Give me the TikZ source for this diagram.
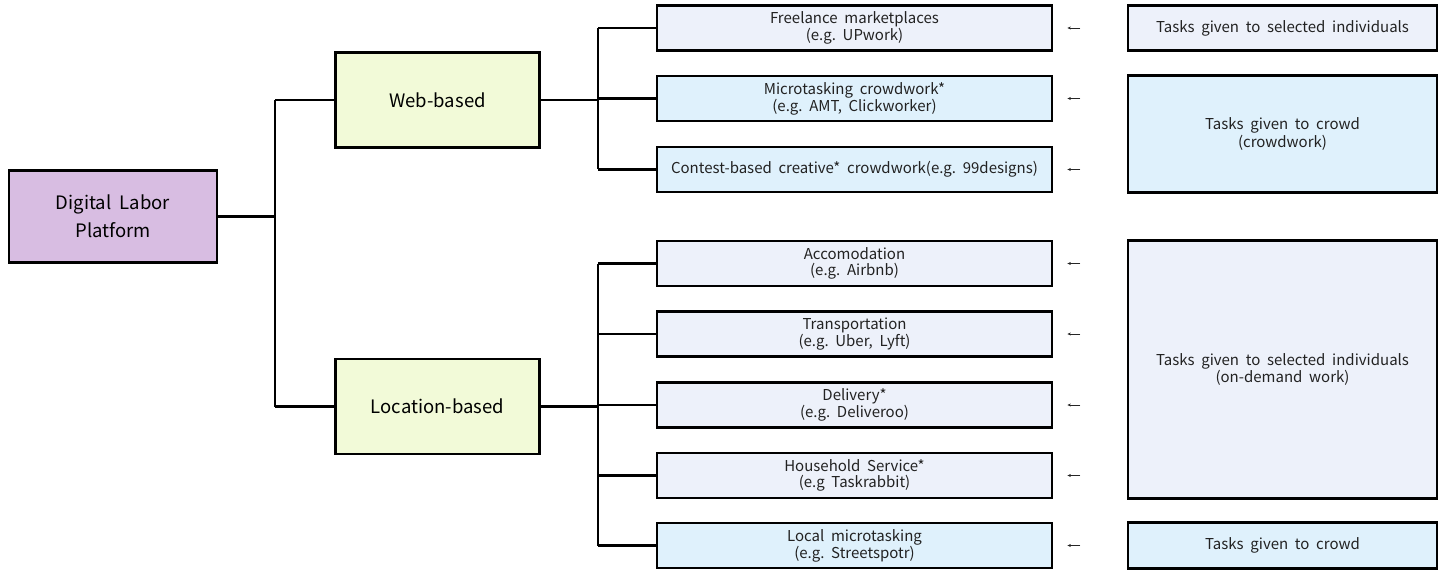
\documentclass[tikz,border=0pt]{standalone}
\usepackage{fontspec}
\setmainfont{Noto Sans CJK KR}
\usetikzlibrary{arrows.meta,calc}
\definecolor{rootfill}{HTML}{D8BDE2}
\definecolor{catfill}{HTML}{F2FAD8}
\definecolor{palefill}{HTML}{EDF1FA}
\definecolor{bluefill}{HTML}{DFF1FC}
\definecolor{txt}{HTML}{222222}
\tikzset{
  box/.style={draw=black, line width=2.8pt, rectangle, inner sep=0pt, align=center,
    text=txt, font=\fontsize{15}{15.5}\selectfont},
  rootbox/.style={box, fill=rootfill, minimum width=208pt, minimum height=92pt,
    font=\fontsize{18.5}{28}\selectfont, text=black},
  catbox/.style={box, fill=catfill, minimum width=204pt, minimum height=95pt,
    font=\fontsize{18.5}{22}\selectfont, text=black},
  midbox/.style={box, minimum width=395pt, minimum height=45pt},
  sidebox/.style={box, minimum width=309pt},
  link/.style={line width=2.4pt, black},
  pointer/.style={line width=0.9pt, -{Stealth[length=3.5pt,width=3pt]}, black!85}
}
\begin{document}
\begin{tikzpicture}[x=1pt,y=-1pt]
\useasboundingbox (0,0) rectangle (1440,572);
% root and categories
\node[rootbox] (root) at (113,216.5) {Digital\ \ Labor\\Platform};
\node[catbox] (web) at (437.5,100) {Web-based};
\node[catbox] (loc) at (437.5,406.5) {Location-based};
% platform types
\node[midbox, fill=palefill] (m1) at (854.5,28) {Freelance\ \ marketplaces\\(e.g.\ \ UPwork)};
\node[midbox, fill=bluefill] (m2) at (854.5,98.5) {Microtasking\ \ crowdwork*\\(e.g.\ \ AMT,\ \ Clickworker)};
\node[midbox, fill=bluefill] (m3) at (854.5,169.5) {Contest-based\ \ creative*\ \ crowdwork(e.g.\ \ 99designs)};
\node[midbox, fill=palefill] (m4) at (854.5,263.5) {Accomodation\\(e.g.\ \ Airbnb)};
\node[midbox, fill=palefill] (m5) at (854.5,334) {Transportation\\(e.g.\ \ Uber,\ \ Lyft)};
\node[midbox, fill=palefill] (m6) at (854.5,405) {Delivery*\\(e.g.\ \ Deliveroo)};
\node[midbox, fill=palefill] (m7) at (854.5,475.5) {Household\ \ Service*\\(e.g\ \ Taskrabbit)};
\node[midbox, fill=bluefill] (m8) at (854.5,545.5) {Local\ \ microtasking\\(e.g.\ \ Streetspotr)};
% task allocation
\node[sidebox, fill=palefill, minimum height=45pt] (s1) at (1282.5,28) {Tasks\ \ given\ \ to\ \ selected\ \ individuals};
\node[sidebox, fill=bluefill, minimum height=117pt] (s2) at (1282.5,134) {Tasks\ \ given\ \ to\ \ crowd\\(crowdwork)};
\node[sidebox, fill=palefill, minimum height=258pt] (s3) at (1282.5,369.5) {Tasks\ \ given\ \ to\ \ selected\ \ individuals\\(on-demand\ \ work)};
\node[sidebox, fill=bluefill, minimum height=46pt] (s4) at (1282.5,545.5) {Tasks\ \ given\ \ to\ \ crowd};
% tree connectors
\coordinate (j0) at (275,0);
\coordinate (j1) at (598,0);
\draw[link] (root.east) -- (root.east -| j0);
\draw[link] (web.west -| j0) -- (loc.west -| j0);
\draw[link] (web.west -| j0) -- (web.west);
\draw[link] (loc.west -| j0) -- (loc.west);
\draw[link] (m1.west -| j1) -- (m3.west -| j1);
\draw[link] (web.east) -- (web.east -| j1);
\foreach \m in {m1,m2,m3}{\draw[link] (\m.west -| j1) -- (\m.west);}
\draw[link] (m4.west -| j1) -- (m8.west -| j1);
\draw[link] (loc.east) -- (loc.east -| j1);
\foreach \m in {m4,m5,m6,m7,m8}{\draw[link] (\m.west -| j1) -- (\m.west);}
% pointers from allocation column
\foreach \m in {m1,m2,m3,m4,m5,m6,m7,m8}{\draw[pointer] ($(\m.east)+(27,0)$) -- ($(\m.east)+(14,0)$);}
\end{tikzpicture}
\end{document}
